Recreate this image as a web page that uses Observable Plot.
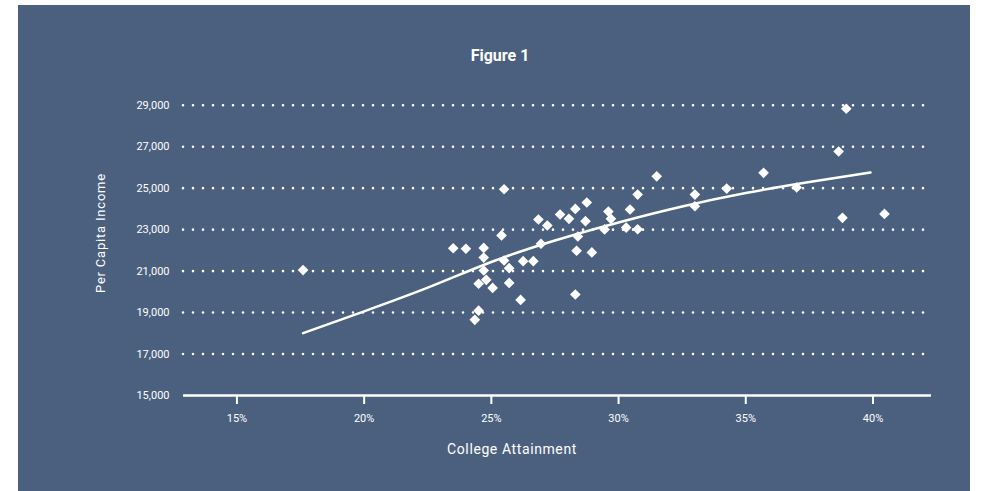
<!DOCTYPE html>
<html>
<head>
<meta charset="utf-8">
<script src="https://cdn.jsdelivr.net/npm/d3@7"></script>
<script src="https://cdn.jsdelivr.net/npm/@observablehq/plot@0.6"></script>
<style>
  html, body { margin: 0; padding: 0; background: #ffffff; }
  #panel { position: absolute; left: 18px; top: 5px; width: 952px; height: 486px; background: #4b607e; overflow: hidden; }
  .lbl { position: absolute; color: #ffffff; font-family: Roboto, "DejaVu Sans", sans-serif; white-space: nowrap; }
  #title { left: 0; width: 988px; text-align: center; top: 41px; font-size: 16px; font-weight: 700; transform: translateX(-12px); }
  #xlabel { left: 394px; width: 200px; text-align: center; top: 436px; font-size: 14px; letter-spacing: 0.6px; }
  #ylabel { left: 82px; top: 228px; width: 0; height: 0; }
  #ylabel span { position: absolute; transform: translate(-50%, -50%) rotate(-90deg); font-size: 13px; letter-spacing: 0.8px; }
  #chart { position: absolute; left: 0; top: 0; }
</style>
</head>
<body>
<div id="panel">
  <div id="chart"></div>
  <div class="lbl" id="title">Figure 1</div>
  <div class="lbl" id="xlabel">College Attainment</div>
  <div class="lbl" id="ylabel"><span>Per Capita Income</span></div>
</div>
<script>
// College attainment (%) for each point
const attainment = [
  17.6, 23.5, 24.0, 24.7, 24.7, 25.4, 25.5, 25.7, 24.7, 24.5,
  24.8, 25.05, 25.7, 26.15, 24.5, 24.35, 26.25, 26.65, 26.95, 26.85,
  27.2, 27.7, 28.05, 28.3, 28.75, 28.7, 28.4, 28.35, 28.95, 28.3,
  29.6, 29.7, 29.45, 30.45, 30.3, 30.75, 30.75, 31.5, 25.5, 33.0,
  33.0, 34.25, 35.7, 37.0, 38.65, 38.95, 38.8, 40.45
];
// Per capita income for each point
const income = [
  21050, 22100, 22080, 22120, 21650, 22720, 21510, 21140, 21030, 20390,
  20580, 20190, 20430, 19610, 19090, 18650, 21480, 21480, 22320, 23490,
  23200, 23730, 23520, 24000, 24310, 23410, 22670, 21980, 21900, 19870,
  23870, 23520, 23010, 23970, 23100, 23020, 24690, 25570, 24950, 24690,
  24130, 24980, 25740, 25030, 26770, 28830, 23570, 23760
];
// Trend line
const trendX = [17.6, 20, 22.5, 25, 27.5, 30, 32.5, 35, 37.5, 39.9];
const trendY = [18005, 19060, 20200, 21440, 22475, 23345, 24115, 24765, 25295, 25755];

const xTicks = [15, 20, 25, 30, 35, 40];
const yTicks = [15000, 17000, 19000, 21000, 23000, 25000, 27000, 29000];

const points = attainment.map((x, i) => ({x, y: income[i]}));
const trend = trendX.map((x, i) => ({x, y: trendY[i]}));

const chart = Plot.plot({
  width: 952,
  height: 486,
  marginLeft: 165,
  marginRight: 39,
  marginTop: 79,
  marginBottom: 96,
  style: {background: "transparent", color: "#ffffff", fontFamily: "Roboto, 'DejaVu Sans', sans-serif", fontSize: "11px"},
  x: {domain: [12.9, 42.3]},
  y: {domain: [15000, 30000]},
  marks: [
    Plot.ruleY(yTicks.filter(d => d > 15000), {stroke: "#ffffff", strokeWidth: 2.6, strokeDasharray: "0,10", strokeLinecap: "round"}),
    Plot.axisY({ticks: yTicks, tickSize: 0, tickPadding: 14, tickFormat: d3.format(","), label: null, fontSize: 11}),
    Plot.axisX({ticks: xTicks, tickSize: 9, tickPadding: 10, strokeWidth: 2, tickFormat: d => d + "%", label: null, fontSize: 11}),
    Plot.line(trend, {x: "x", y: "y", stroke: "#ffffff", strokeWidth: 2.5, curve: "natural"}),
    Plot.dot(points, {x: "x", y: "y", symbol: "diamond2", r: 4.8, fill: "#ffffff", stroke: "none"}),
    Plot.ruleY([15000], {stroke: "#ffffff", strokeWidth: 2.6})
  ]
});
document.getElementById("chart").appendChild(chart);
</script>
</body>
</html>
